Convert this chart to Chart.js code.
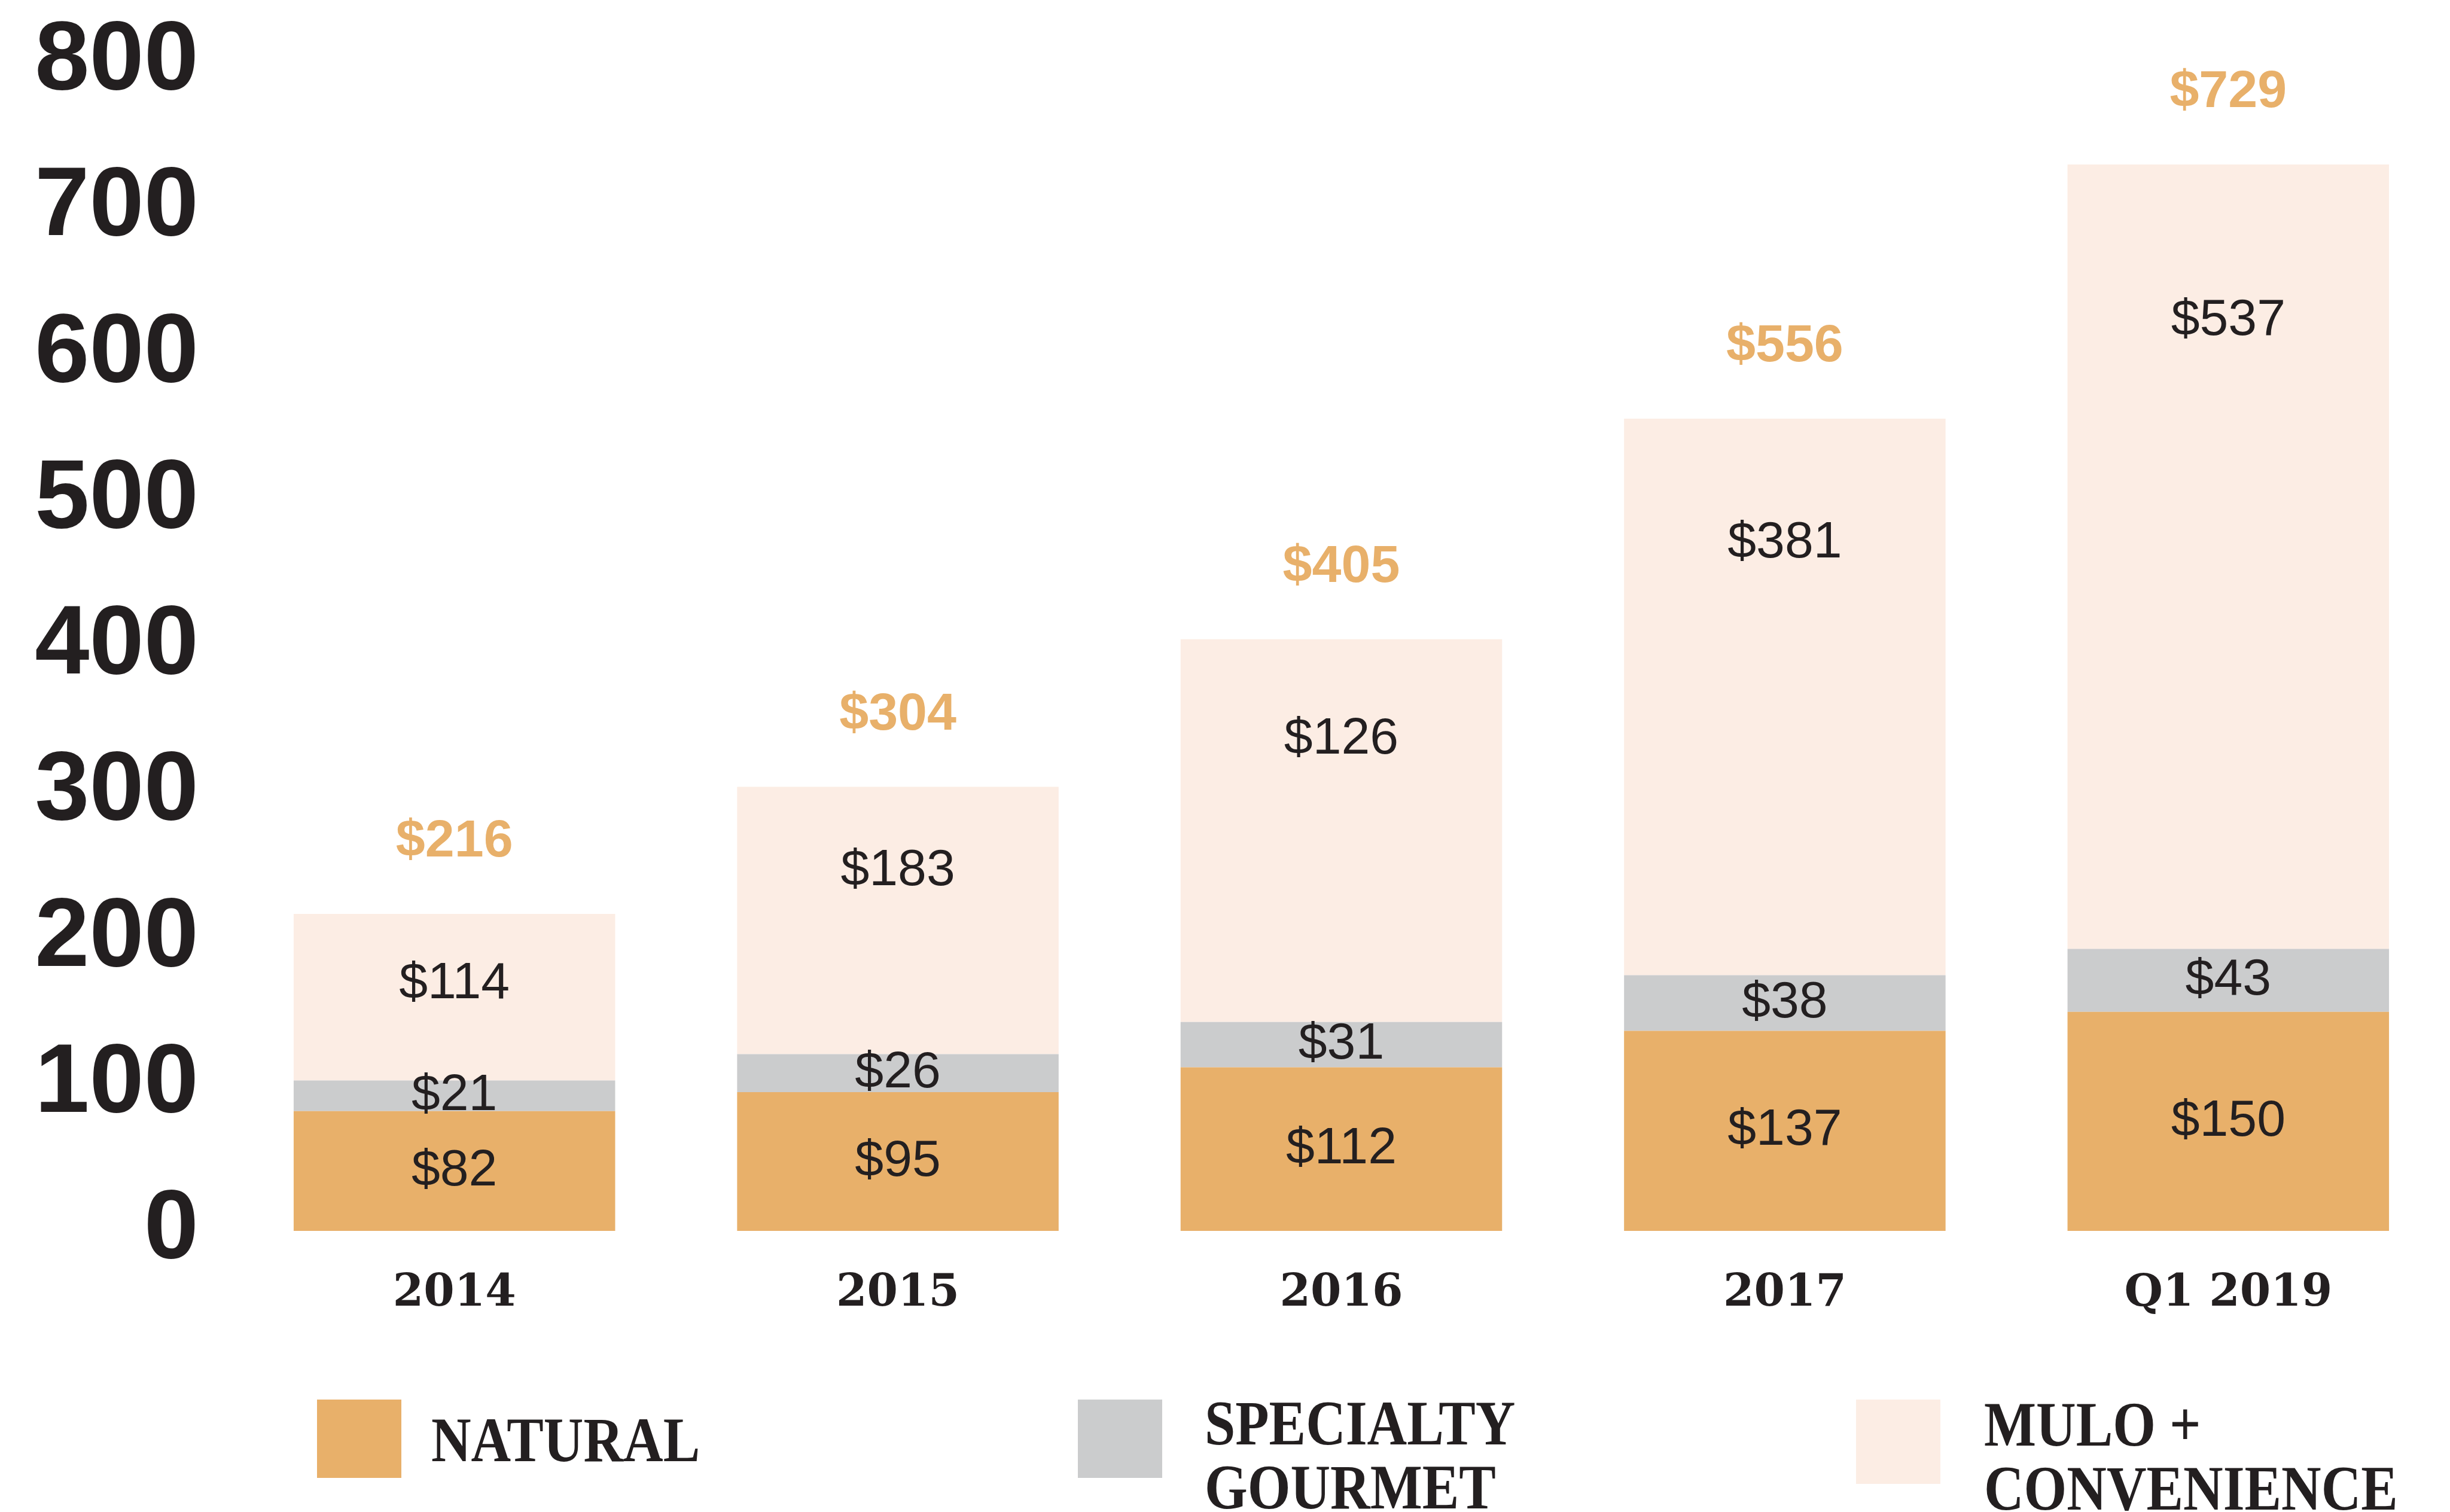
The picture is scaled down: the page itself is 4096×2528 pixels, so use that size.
<!DOCTYPE html>
<html>
<head>
<meta charset="utf-8">
<script src="https://cdn.jsdelivr.net/npm/chart.js@4.4.1/dist/chart.umd.min.js"></script>
<style>
  html, body { margin: 0; padding: 0; background: #fff; overflow: hidden; }
  #wrap { position: relative; width: 4096px; height: 2528px; }
  #chart { position: absolute; left: 0; top: 0; }
  .swatch { position: absolute; width: 141px; }
  .lbl {
    position: absolute;
    font-family: "Liberation Serif", serif;
    font-weight: bold;
    font-size: 106px;
    line-height: 107px;
    color: #231f20;
    transform: scaleX(0.87);
    transform-origin: left top;
    white-space: pre;
  }
</style>
</head>
<body>
<div id="wrap">
  <canvas id="chart" width="4096" height="2528"></canvas>
</div>
<script>
const categories = ["2014", "2015", "2016", "2017", "Q1 2019"];
const natural = [82, 95, 112, 137, 150];
const specialty = [21, 26, 31, 38, 43];
// bar heights as drawn (2016 segment reaches the $405 total)
const mulo = [114, 183, 262, 381, 537];
// values printed inside the MULO segments
const muloLabels = [114, 183, 126, 381, 537];
const totals = [216, 304, 405, 556, 729];
const seriesNames = ["NATURAL", "SPECIALTY\nGOURMET", "MULO +\nCONVENIENCE"];
const yTicks = [0, 100, 200, 300, 400, 500, 600, 700, 800];

const colors = ["#e8b06a", "#cbcccd", "#fcede4"];
const ink = "#231f20";

// html legend (two-line labels)
const legendPos = [
  { sx: 530, sy: 2340, sh: 131, tx: 721, ty: 2354 },
  { sx: 1802, sy: 2340, sh: 131, tx: 2014, ty: 2326 },
  { sx: 3103, sy: 2340, sh: 141, tx: 3317, ty: 2328 },
];
const wrap = document.getElementById("wrap");
seriesNames.forEach((name, i) => {
  const p = legendPos[i];
  const sw = document.createElement("div");
  sw.className = "swatch";
  sw.style.left = p.sx + "px";
  sw.style.top = p.sy + "px";
  sw.style.height = p.sh + "px";
  sw.style.background = colors[i];
  wrap.appendChild(sw);
  const t = document.createElement("div");
  t.className = "lbl";
  t.style.left = p.tx + "px";
  t.style.top = p.ty + "px";
  t.textContent = name;
  wrap.appendChild(t);
});

const segmentLabels = {
  id: "segmentLabels",
  afterDatasetsDraw(chart) {
    const ctx = chart.ctx;
    const metas = [0, 1, 2].map((i) => chart.getDatasetMeta(i));
    ctx.save();
    ctx.textAlign = "center";
    ctx.textBaseline = "middle";
    categories.forEach((c, j) => {
      const nat = metas[0].data[j];
      const spec = metas[1].data[j];
      const mul = metas[2].data[j];
      ctx.fillStyle = ink;
      ctx.font = "86px 'Liberation Sans'";
      ctx.fillText("$" + natural[j], nat.x, (nat.y + nat.base) / 2);
      ctx.fillText("$" + specialty[j], spec.x, (spec.y + spec.base) / 2);
      const h = mul.base - mul.y;
      ctx.fillText("$" + muloLabels[j], mul.x, mul.y + 78 + 0.14 * h);
      ctx.fillStyle = colors[0];
      ctx.font = "bold 88px 'Liberation Sans'";
      ctx.fillText("$" + totals[j], mul.x, mul.y - 120);
    });
    ctx.restore();
  },
};

const config = {
  type: "bar",
  data: {
    labels: categories,
    datasets: [
      { label: "Natural", data: natural, backgroundColor: colors[0] },
      { label: "Specialty Gourmet", data: specialty, backgroundColor: colors[1] },
      { label: "MULO + Convenience", data: mulo, backgroundColor: colors[2] },
    ],
  },
  options: {
    responsive: false,
    animation: false,
    devicePixelRatio: 1,
    layout: {
      padding: { top: 104, left: 0, right: 0, bottom: 270 },
    },
    datasets: {
      bar: { barPercentage: 0.725, categoryPercentage: 1 },
    },
    plugins: {
      legend: { display: false },
      tooltip: { enabled: false },
    },
    scales: {
      x: {
        stacked: true,
        grid: { display: false, drawTicks: false },
        border: { display: false },
        ticks: {
          color: ink,
          padding: 61,
          font: { family: "DejaVu Serif", weight: "bold", size: 74 },
        },
        afterFit: (s) => {
          s.height = 200;
          s.paddingLeft = 0;
          s.paddingRight = 0;
        },
      },
      y: {
        stacked: true,
        min: 0,
        max: 800,
        grid: { display: false, drawTicks: false },
        border: { display: false },
        afterBuildTicks: (s) => {
          s.ticks = yTicks.map((v) => ({ value: v }));
        },
        ticks: {
          color: ink,
          padding: 57,
          font: { family: "Liberation Sans", weight: "bold", size: 164 },
        },
        afterFit: (s) => {
          s.width = 389;
          s.paddingTop = 0;
          s.paddingBottom = 0;
        },
      },
    },
  },
  plugins: [segmentLabels],
};

new Chart(document.getElementById("chart").getContext("2d"), config);
</script>
</body>
</html>
